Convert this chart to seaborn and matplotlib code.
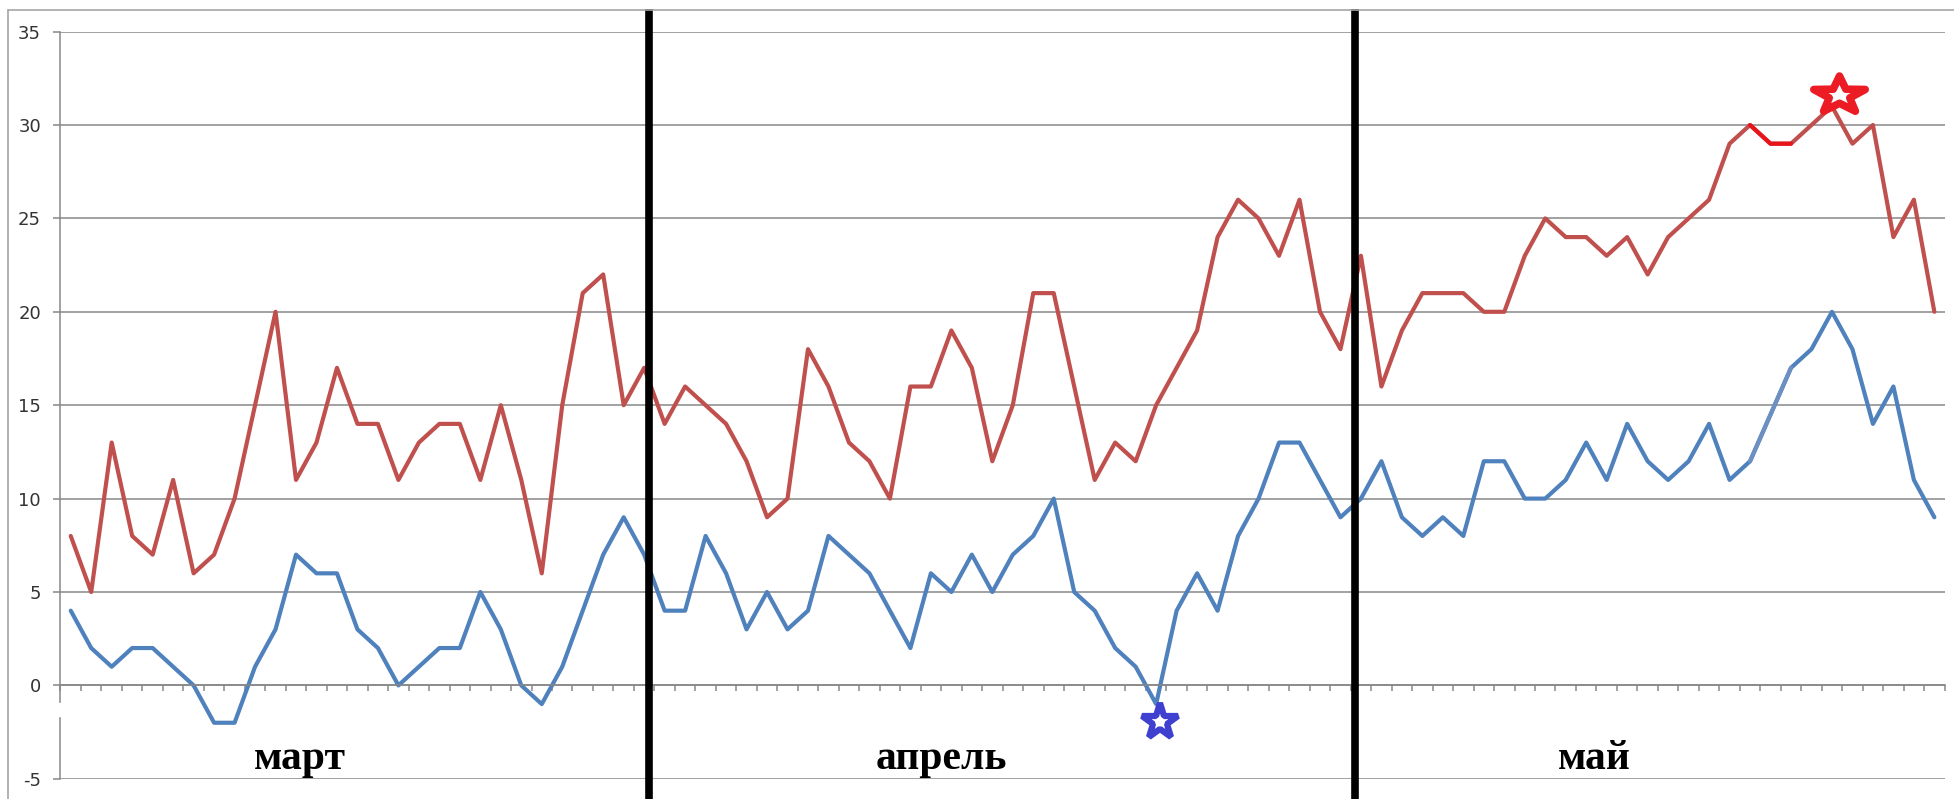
import matplotlib
matplotlib.use("Agg")
import matplotlib.pyplot as plt
import seaborn as sns
import pandas as pd
import numpy as np
from matplotlib.lines import Line2D
from matplotlib.patches import Rectangle
from matplotlib.path import Path
from matplotlib.transforms import Affine2D

# --- data (one value per day: март, апрель, май) ---
red_vals = [8, 5, 13, 8, 7, 11, 6, 7, 10, 15, 20, 11, 13, 17, 14, 14, 11, 13, 14, 14,
            11, 15, 11, 6, 15, 21, 22, 15, 17,
            14, 16, 15, 14, 12, 9, 10, 18, 16, 13, 12, 10, 16, 16, 19, 17, 12, 15, 21, 21,
            16, 11, 13, 12, 15, 17, 19, 24, 26, 25, 23, 26, 20, 18,
            23, 16, 19, 21, 21, 21, 20, 20, 23, 25, 24, 24, 23, 24, 22, 24, 25, 26, 29, 30,
            29, 29, 30, 31, 29, 30, 24, 26, 20]
blue_vals = [4, 2, 1, 2, 2, 1, 0, -2, -2, 1, 3, 7, 6, 6, 3, 2, 0, 1, 2, 2,
             5, 3, 0, -1, 1, 4, 7, 9, 7,
             4, 4, 8, 6, 3, 5, 3, 4, 8, 7, 6, 4, 2, 6, 5, 7, 5, 7, 8, 10,
             5, 4, 2, 1, -1, 4, 6, 4, 8, 10, 13, 13, 11, 9,
             10, 12, 9, 8, 9, 8, 12, 12, 10, 10, 11, 13, 11, 14, 12, 11, 12, 14, 11, 12,
             14.5, 17, 18, 20, 18, 14, 16, 11, 9]
months = ["март", "апрель", "май"]
month_label_x = [11.2, 42.5, 74.4]
divider_x = [28.23, 62.73]          # hand-drawn black month separators
y_ticks = [-5, 0, 5, 10, 15, 20, 25, 30, 35]
star_blue = (53.2, -1.97)           # minimum marker
star_red = (86.35, 31.6)            # maximum marker
retouch_days = [82, 83, 84]         # part redrawn by hand

sns.set_theme(style="white")
plt.rcParams['font.family'] = ['DejaVu Sans']
plt.rcParams['axes.unicode_minus'] = False

days = np.arange(len(red_vals))
df = pd.DataFrame({
    'day': np.concatenate([days, days]),
    'value': red_vals + blue_vals,
    'series': ['red'] * len(days) + ['blue'] * len(days),
})

fig = plt.figure(figsize=(19.54, 7.99), dpi=100)
ax = fig.add_axes([0.03096, 0.02528, 0.96423, 0.93517])

sns.lineplot(data=df, x='day', y='value', hue='series',
             palette={'red': '#c0504d', 'blue': '#4f81bd'},
             linewidth=3, legend=False, estimator=None, ax=ax)

# retouched bits
ax.plot(retouch_days, [red_vals[d] for d in retouch_days], color='#e8141c', lw=3)
ax.plot(retouch_days, [blue_vals[d] for d in retouch_days], color='#6d8fc2', lw=3)

# axes look (Excel style)
grid_c = '#878787'
ax.set_xlim(-0.5, len(days) - 0.5)
ax.set_ylim(-5, 35)
ax.set_yticks(y_ticks)
ax.set_xticks(np.arange(-0.5, len(days), 1))
ax.set_xticklabels([])
ax.set_xlabel('')
ax.set_ylabel('')
ax.grid(axis='y', color=grid_c, lw=1.1)
ax.grid(axis='x', visible=False)
ax.set_axisbelow(True)
for s in ['top', 'right']:
    ax.spines[s].set_visible(False)
ax.spines['bottom'].set_position(('data', 0))
ax.spines['bottom'].set_color(grid_c)
ax.spines['bottom'].set_linewidth(1.1)
ax.spines['left'].set_color(grid_c)
ax.spines['left'].set_linewidth(1.1)
ax.tick_params(axis='y', left=True, direction='out', length=5, width=1.1, color=grid_c,
               pad=9, labelsize=13, labelcolor='#333333')
ax.tick_params(axis='x', bottom=True, direction='out', length=4.5, width=1.1, color=grid_c)

# little erased gap on the vertical axis
ax.add_patch(Rectangle((-0.8, -1.66), 0.6, 0.7, color='white', clip_on=False, zorder=5))

# month names
for x, m in zip(month_label_x, months):
    ax.text(x, -4.45, m, ha='center', va='baseline', fontsize=30, fontweight='bold',
            family=['Liberation Serif', 'DejaVu Serif'], color='black')

# black separators
for x in divider_x:
    ax.plot([x, x], [-6.3, 36.2], color='black', lw=5.5, clip_on=False,
            solid_capstyle='butt', zorder=6)

# stars (thick outline, small hole)
ax.plot(*star_blue, marker='*', ms=27, mfc='white', mec='#3f3fd0', mew=4.5,
        clip_on=False, zorder=7)
flat_star = Path.unit_regular_star(5, 0.4).transformed(Affine2D().scale(1.0, 0.72))
ax.plot(*star_red, marker=flat_star, ms=37, mfc='white', mec='#ec1c24', mew=5.5,
        clip_on=False, zorder=7)

# outer chart frame
fig.add_artist(Line2D([0.00425, 0.00425], [0, 0.9875], color='#a6a6a6', lw=1.2))
fig.add_artist(Line2D([0.00425, 1], [0.9875, 0.9875], color='#a6a6a6', lw=1.2))

fig.savefig('out.png', dpi=100, facecolor='white')
